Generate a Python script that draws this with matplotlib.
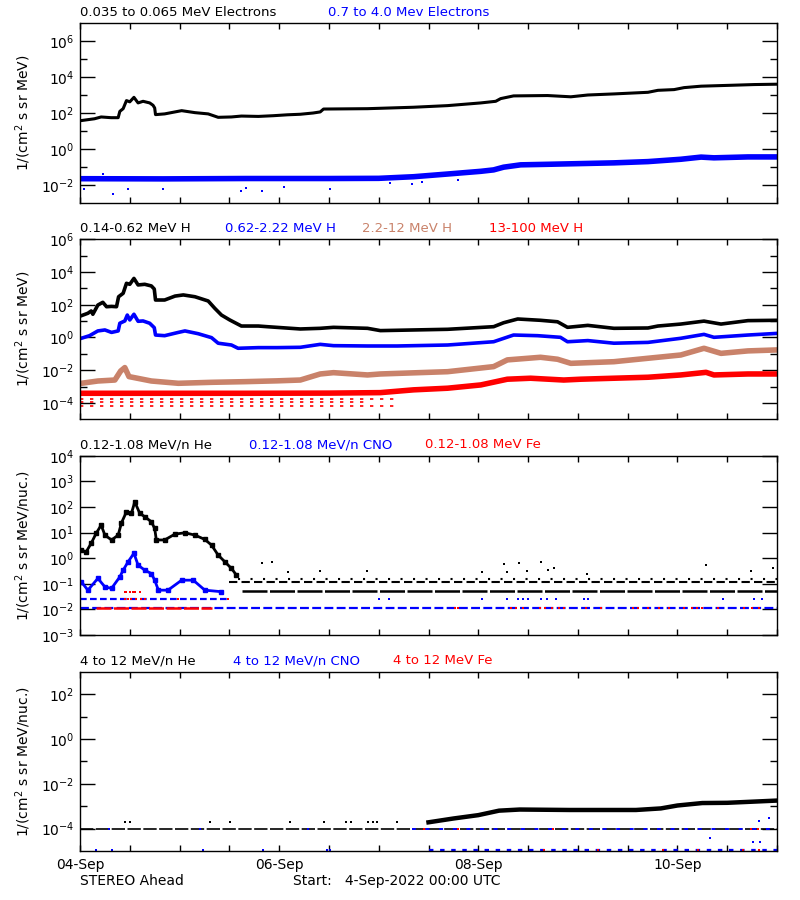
import numpy as np
import matplotlib
matplotlib.use('Agg')
import matplotlib.pyplot as plt

plt.rcParams['font.family'] = ['DejaVu Sans']

# x axis: hours since 4-Sep-2022 00:00 UTC, values are log10 of flux
day_ticks = [0, 48, 96, 144]
day_labels = ['04-Sep', '06-Sep', '08-Sep', '10-Sep']

# ---- panel 1: electrons
e_lo_t = [0, 3.5, 5.1, 7.5, 9.2, 9.6, 10.4, 11.2, 12.0, 13.0, 14.0, 15.2, 16.8, 17.6, 18.0,
          18.2, 20.4, 22.9, 24.5, 27.7, 30.9, 33.3, 36.5, 38.9, 43, 46.6, 50, 53.1, 56.2, 57.9,
          58.7, 69.3, 80.4, 88.6, 96.6, 100.2, 101.4, 104.5, 112.7, 118.3, 122.4, 128.7, 136.9,
          139.3, 143.2, 145.6, 149.7, 156.9, 162.5, 168]
e_lo_v = [1.57, 1.68, 1.78, 1.74, 1.74, 2.09, 2.24, 2.69, 2.62, 2.87, 2.56, 2.65, 2.56, 2.43, 2.28,
          1.91, 1.95, 2.06, 2.13, 2.02, 1.95, 1.76, 1.78, 1.83, 1.81, 1.85, 1.9, 1.93, 2.0, 2.06,
          2.22, 2.24, 2.32, 2.41, 2.56, 2.65, 2.80, 2.95, 2.97, 2.9, 3.0, 3.06, 3.15,
          3.26, 3.3, 3.41, 3.49, 3.54, 3.58, 3.6]
e_hi_t = [0, 20, 40, 60, 72, 80.4, 88.6, 96.6, 99.7, 102.1, 106.2, 112.7, 120.7, 128.7, 136.9,
          144.8, 149.7, 152.8, 161, 168]
e_hi_v = [-1.65, -1.66, -1.64, -1.64, -1.63, -1.54, -1.39, -1.24, -1.16, -1.01, -0.88, -0.85, -0.81,
          -0.77, -0.7, -0.57, -0.45, -0.49, -0.44, -0.44]
e_hi_out_t = [1.0, 5.6, 8.0, 11.6, 20.0, 38.8, 40.1, 43.9, 49.2, 60.3, 74.8, 80.1, 82.5, 91.0]
e_hi_out_v = [-2.2, -1.37, -2.49, -2.2, -2.2, -2.32, -2.15, -2.32, -2.13, -2.22, -1.9, -1.96, -1.85, -1.71]

# ---- panel 2: protons
h1_t = [0.3, 1.9, 2.7, 3.1, 4.3, 5.5, 6.4, 7.6, 8.8, 9.3, 10.4, 11.2, 12.0, 13.0, 14.0,
        15.6, 17.2, 17.9, 18.2, 20.4, 22.9, 24.9, 27.7, 30.9, 32.5, 34.1, 36.1, 38.9, 43, 45.1,
        53.1, 57.9, 61.1, 69.3, 72.4, 76.5, 88.6, 99.7, 102.1, 105.5, 111.0, 115.1, 117.5, 122.4,
        128.7, 136.9, 139.3, 144.8, 150.4, 154.5, 161, 168]
h1_v = [1.33, 1.48, 1.62, 1.42, 1.98, 2.15, 1.88, 1.9, 1.88, 2.49, 2.7, 3.31, 3.25, 3.61, 3.21,
        3.25, 3.15, 2.96, 2.29, 2.29, 2.53, 2.6, 2.49, 2.23, 1.78, 1.37, 1.07, 0.70, 0.70, 0.66,
        0.52, 0.56, 0.62, 0.56, 0.42, 0.44, 0.5, 0.66, 0.9, 1.13, 1.05, 0.96, 0.62, 0.74,
        0.56, 0.58, 0.70, 0.82, 1.0, 0.82, 1.03, 1.05]
h2_t = [0.3, 2.3, 4.3, 6.0, 7.6, 9.2, 9.6, 10.8, 11.4, 12.0, 13.0, 14.0, 15.2, 16.8, 17.9,
        18.2, 20.4, 23.7, 25.3, 28.5, 31.7, 33.3, 36.5, 38.1, 43, 47.5, 53.1, 57.9, 61.1, 69.3,
        76.5, 88.6, 99.7, 104.5, 110.3, 115.8, 117.5, 122.4, 128.7, 136.9, 144.8, 150.4, 152.8, 161, 168]
h2_v = [-0.05, 0.11, 0.40, 0.46, 0.31, 0.40, 0.87, 1.01, 1.37, 1.07, 1.42, 0.99, 1.01, 0.87, 0.6,
        0.15, 0.11, 0.31, 0.40, 0.23, -0.01, -0.35, -0.46, -0.66, -0.62, -0.62, -0.60, -0.42, -0.5, -0.52,
        -0.52, -0.46, -0.26, 0.15, 0.11, 0.01, -0.26, -0.19, -0.35, -0.3, -0.05, 0.19, 0.01, 0.15, 0.25]
h3_t = [0.3, 4.3, 8.4, 9.8, 10.8, 11.8, 14.0, 17.2, 23.7, 31.7, 39.7, 47.5, 53.1, 57.9, 61.1,
        69.3, 72.4, 88.6, 99.7, 103.0, 111.0, 115.1, 118.3, 128.7, 136.9, 144.8, 150.4, 154.5, 161, 168]
h3_v = [-2.80, -2.66, -2.6, -2.05, -1.84, -2.39, -2.5, -2.66, -2.8, -2.74, -2.7, -2.65, -2.6, -2.23, -2.15,
        -2.29, -2.23, -2.09, -1.78, -1.37, -1.21, -1.33, -1.58, -1.48, -1.27, -1.07, -0.66, -0.97, -0.82, -0.76]
h4_t = [0, 20, 40, 60, 72.4, 80.4, 88.6, 96.6, 103.0, 108.6, 116.6, 120.7, 128.7, 136.9, 144.8,
        150.9, 152.8, 161, 168]
h4_v = [-3.41, -3.41, -3.41, -3.4, -3.37, -3.2, -3.1, -2.9, -2.55, -2.49, -2.6, -2.55, -2.49, -2.43, -2.29,
        -2.13, -2.29, -2.23, -2.23]
h4_rows = [-3.76, -3.92, -4.2]
h4_rows_end = [77, 70, 76]

# ---- panel 3: 0.12-1.08 MeV/n ions
he_t = [0.3, 1.5, 2.7, 3.9, 5.1, 6.0, 7.6, 9.2, 10.0, 11.2, 12.4, 13.2, 14.4, 15.6, 17.2,
        18.0, 18.4, 20.4, 22.9, 25.3, 27.7, 30.1, 31.7, 33.3, 34.9, 36.5, 37.7]
he_v = [0.31, 0.25, 0.58, 0.97, 1.29, 0.9, 0.71, 0.9, 1.38, 1.81, 1.75, 2.2, 1.75, 1.62, 1.42,
        1.16, 0.71, 0.71, 0.94, 0.99, 0.9, 0.73, 0.51, 0.12, -0.14, -0.40, -0.66]
he_rows = [-0.82, -0.95, -1.27]
he_rows_start = [38, 36, 39]
he_pts_t = [43.9, 46.3, 50.1, 57.9, 69.2, 97, 102.2, 103, 105.8, 107.8, 111, 112.7, 114.3, 122.3,
            150.9, 161.7, 167]
he_pts_v = [-0.2, -0.14, -0.55, -0.5, -0.5, -0.55, -0.24, -0.53, -0.2, -0.5, -0.14, -0.45, -0.4, -0.63,
            -0.28, -0.5, -0.4]
cno_t = [0.3, 1.9, 4.3, 6.0, 7.6, 9.6, 10.4, 11.6, 13.0, 14.0, 15.6, 17.2, 18.0, 18.9, 21.2,
         24.5, 27.3, 30.1, 34.1]
cno_v = [-0.92, -1.25, -0.79, -1.12, -1.18, -0.73, -0.47, -0.14, 0.19, -0.27, -0.47, -0.6, -0.86, -1.25,
         -1.25, -0.86, -0.86, -1.25, -1.31]
cno_rows = [-1.6, -1.94]
cno_rows_end = [36, 168]
cno_sparse_t = [72, 74.4, 97, 103, 105.5, 106.7, 107.9, 111, 112.5, 114.7, 121.4, 122.4, 155.1, 162.4, 164.3]
fe_hi_t = [10.9, 11.2, 12.0, 12.1, 12.8, 13.2, 14.4]
fe_mid_t = [10.8, 11.5, 12.3, 13.5, 14.6, 15.6, 23.7, 35.7]
fe_row_t = [90.3, 91.2, 103.8, 105.0, 106.7, 110.8, 112.2, 113.8, 115.5, 116.7, 121.9, 125.5, 133.4,
            134.4, 136.9, 139.6, 142, 145.7, 147.5, 148.8, 150.0, 153.7, 160.0, 162, 163.7]

# ---- panel 4: 4-12 MeV/n ions
he4_t = [84, 90, 96, 101, 106, 118, 134, 140, 144, 150, 156, 162, 168]
he4_v = [-3.72, -3.55, -3.4, -3.2, -3.15, -3.17, -3.17, -3.1, -2.97, -2.86, -2.85, -2.8, -2.75]
he4_sparse_t = [10.9, 12.1, 31.4, 36.2, 50.5, 58.9, 64, 65.2, 69.5, 70.6, 71.7, 76.5]
cno4_early_hi = [7.0, 29.0, 55.0]
cno4_early_lo = [3.9, 7.6, 29.7, 44.2, 59.6, 60.3]
cno4_stray_t = [151.8, 162.1, 164, 163.6, 166]
cno4_stray_v = [-4.43, -4.6, -4.6, -3.68, -3.54]
fe4_hi_t = [82.8, 91, 114, 161.7, 163.4]
fe4_lo_t = [111.8, 124.8, 140.5, 148.9, 159.8, 163.6]

BLUE = '#0000ff'
RED = '#ff0000'
BROWN = '#c9826a'


def p(v):
    return 10.0 ** np.asarray(v)


def box(top, bottom):
    return [80 / 800, 1 - bottom / 900, 697 / 800, (bottom - top) / 900]


def style(ax, ylo, yhi, major, minor, ylabel):
    ax.set_yscale('log')
    ax.set_xlim(0, 168)
    ax.set_ylim(10.0 ** ylo, 10.0 ** yhi)
    ax.set_yticks([10.0 ** k for k in major], ['$10^{%d}$' % k for k in major])
    ax.set_yticks([10.0 ** k for k in minor], minor=True)
    ax.set_yticklabels([], minor=True)
    ax.set_xticks(day_ticks)
    ax.set_xticks(range(0, 169, 12), minor=True)
    ax.set_xticklabels([])
    ax.tick_params(axis='y', which='major', direction='in', length=11, width=1, right=True,
                   labelsize=10, pad=4)
    ax.tick_params(axis='y', which='minor', direction='in', length=5, width=1, right=True)
    ax.tick_params(axis='x', which='both', direction='in', length=4, width=1, top=True)
    for s in ax.spines.values():
        s.set_linewidth(1)
    ax.set_ylabel(ylabel, fontsize=10)
    ax.yaxis.set_label_coords(-47 / 697, 0.5)


def titles(yc, items):
    for x, txt, col in items:
        fig.text(x / 800, 1 - yc / 900, txt, color=col, fontsize=9.5, va='center', ha='left')


fig = plt.figure(figsize=(8, 9), dpi=100)

# panel 1
ax1 = fig.add_axes(box(23, 203))
ax1.plot(e_lo_t, p(e_lo_v), color='black', lw=2.2)
ax1.plot(e_hi_t, p(e_hi_v), color=BLUE, lw=4)
ax1.plot(e_hi_out_t, p(e_hi_out_v), 's', color=BLUE, ms=1.8, mew=0)
style(ax1, -3, 7, [6, 4, 2, 0, -2], [5, 3, 1, -1], '1/(cm$^2$ s sr MeV)')
titles(13, [(80, '0.035 to 0.065 MeV Electrons', 'black'),
            (328, '0.7 to 4.0 Mev Electrons', BLUE)])

# panel 2
ax2 = fig.add_axes(box(239.3, 419.3))
ax2.hlines(p(h4_rows), 0, h4_rows_end, colors=RED, lw=1.2, linestyles=[(0, (2, 4))])
ax2.plot(h4_t, p(h4_v), color=RED, lw=4)
ax2.plot(h3_t, p(h3_v), color=BROWN, lw=4)
ax2.plot(h2_t, p(h2_v), color=BLUE, lw=2.6)
ax2.plot(h1_t, p(h1_v), color='black', lw=2.6)
style(ax2, -5, 6, [6, 4, 2, 0, -2, -4], [5, 3, 1, -1, -3], '1/(cm$^2$ s sr MeV)')
titles(229, [(80, '0.14-0.62 MeV H', 'black'), (225, '0.62-2.22 MeV H', BLUE),
             (362, '2.2-12 MeV H', BROWN), (489, '13-100 MeV H', RED)])

# panel 3
ax3 = fig.add_axes(box(455.7, 635))
ax3.hlines(p(he_rows[0]), he_rows_start[0], 168, colors='black', lw=1.5, linestyles=[(0, (1, 5))])
ax3.hlines(p(he_rows[1]), he_rows_start[1], 168, colors='black', lw=1.5, linestyles=[(0, (4, 2))])
ax3.hlines(p(he_rows[2]), he_rows_start[2], 168, colors='black', lw=1.8, linestyles=[(0, (10, 1))])
ax3.plot(he_pts_t, p(he_pts_v), 's', color='black', ms=2, mew=0)
ax3.plot(he_t, p(he_v), color='black', lw=2, marker='s', ms=2.5)
ax3.hlines(p(cno_rows[0]), 0, cno_rows_end[0], colors=BLUE, lw=1.6, linestyles=[(0, (3, 1.5))])
ax3.hlines(p(cno_rows[1]), 0, cno_rows_end[1], colors=BLUE, lw=1.6, linestyles=[(0, (4, 1.5))])
ax3.plot(cno_sparse_t, p([cno_rows[0]] * len(cno_sparse_t)), 's', color=BLUE, ms=2, mew=0)
ax3.plot(cno_t, p(cno_v), color=BLUE, lw=2, marker='s', ms=2.5)
ax3.hlines(p(cno_rows[1]), 3.9, 31.7, colors=RED, lw=1.8, linestyles=[(0, (6, 1))])
ax3.plot(fe_hi_t, p([-1.31] * len(fe_hi_t)), 's', color=RED, ms=2, mew=0)
ax3.plot(fe_mid_t, p([-1.61] * len(fe_mid_t)), 's', color=RED, ms=2, mew=0)
ax3.plot(fe_row_t, p([cno_rows[1]] * len(fe_row_t)), 's', color=RED, ms=2, mew=0)
style(ax3, -3, 4, [4, 3, 2, 1, 0, -1, -2, -3], [], '1/(cm$^2$ s sr MeV/nuc.)')
titles(445, [(80, '0.12-1.08 MeV/n He', 'black'), (249, '0.12-1.08 MeV/n CNO', BLUE),
             (425, '0.12-1.08 MeV Fe', RED)])

# panel 4
ax4 = fig.add_axes(box(671.7, 851))
ax4.hlines(p(-4), 0, 168, colors='black', lw=1.2, linestyles=[(0, (8, 1.5))])
ax4.plot(he4_sparse_t, p([-3.72] * len(he4_sparse_t)), 's', color='black', ms=2, mew=0)
ax4.plot(he4_t, p(he4_v), color='black', lw=3.2)
ax4.hlines(p(-4), 80, 168, colors=BLUE, lw=1.4, linestyles=[(0, (2, 5))])
ax4.hlines(p(-4.95), 84, 168, colors=BLUE, lw=1.6, linestyles=[(0, (2, 3))])
ax4.plot(cno4_early_hi, p([-4] * len(cno4_early_hi)), 's', color=BLUE, ms=2, mew=0)
ax4.plot(cno4_early_lo, p([-4.95] * len(cno4_early_lo)), 's', color=BLUE, ms=2, mew=0)
ax4.plot(cno4_stray_t, p(cno4_stray_v), 's', color=BLUE, ms=2, mew=0)
ax4.plot(fe4_hi_t, p([-4] * len(fe4_hi_t)), 's', color=RED, ms=2, mew=0)
ax4.plot(fe4_lo_t, p([-4.95] * len(fe4_lo_t)), 's', color=RED, ms=2, mew=0)
style(ax4, -5, 3, [2, 0, -2, -4], [1, -1, -3], '1/(cm$^2$ s sr MeV/nuc.)')
ax4.set_xticklabels(day_labels, fontsize=10)
ax4.tick_params(axis='x', which='major', pad=5)
titles(661, [(80, '4 to 12 MeV/n He', 'black'), (233, '4 to 12 MeV/n CNO', BLUE),
             (393, '4 to 12 MeV Fe', RED)])

fig.text(80 / 800, 1 - 881 / 900, 'STEREO Ahead', fontsize=10, va='center', ha='left')
fig.text(293 / 800, 1 - 881 / 900, 'Start:   4-Sep-2022 00:00 UTC', fontsize=10, va='center', ha='left')

fig.savefig('out.png', dpi=100)
